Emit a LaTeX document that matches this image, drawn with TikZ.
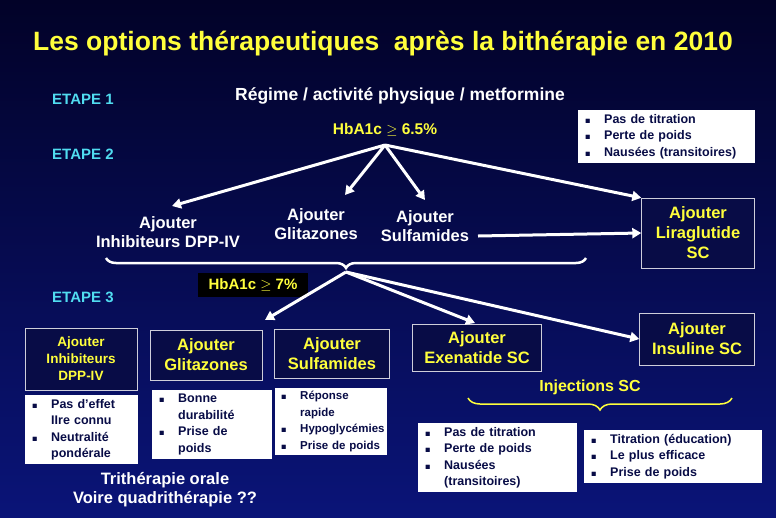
\documentclass[tikz,border=0pt]{standalone}
\usepackage{fontspec}
\usepackage{amssymb}
\setmainfont{Liberation Sans}
\setsansfont{Liberation Sans}
\usetikzlibrary{decorations.pathreplacing,arrows.meta}
\definecolor{bgtop}{RGB}{2,2,40}
\definecolor{bgbot}{RGB}{10,20,120}
\definecolor{navy}{RGB}{8,12,70}
\definecolor{slideyellow}{RGB}{255,255,60}
\definecolor{etapecyan}{RGB}{80,220,240}
\tikzset{
  every node/.style={font=\bfseries\sffamily, inner sep=0pt},
  etape/.style={text=etapecyan, font=\bfseries\sffamily\fontsize{15}{17}\selectfont, anchor=west},
  choice/.style={text=white, align=center, font=\bfseries\sffamily\fontsize{16.5}{19}\selectfont},
  drugbox/.style={draw=white!80!navy, fill=navy, text=slideyellow, align=center, font=\bfseries\sffamily\fontsize{16.5}{20}\selectfont},
  notebox/.style={fill=white, text=navy, anchor=north west, align=left, inner sep=4pt, font=\bfseries\sffamily\fontsize{12.5}{16.5}\selectfont},
  flow/.style={draw=white, line width=3pt, -{Triangle[length=9pt,width=10pt]}}
}
\newcommand{\itm}{\makebox[22pt][l]{\hspace{3pt}\tiny$\blacksquare$}}
\newcommand{\ind}{\hspace*{22pt}}
\begin{document}
\begin{tikzpicture}[x=1pt,y=-1pt]
\shade[top color=bgtop, bottom color=bgbot] (0,0) rectangle (776,517);
\useasboundingbox (0,0) rectangle (776,517);
\node[text=slideyellow, font=\bfseries\sffamily\fontsize{26.5}{30}\selectfont] (title) at (383,44) {Les options thérapeutiques \ après la bithérapie en 2010};
\node[etape] (e1) at (52,99) {ETAPE 1};
\node[etape] (e2) at (52,154) {ETAPE 2};
\node[etape] (e3) at (52,297) {ETAPE 3};
\node[choice, font=\bfseries\sffamily\fontsize{17.5}{20}\selectfont] (regime) at (400,96) {Régime / activité physique / metformine};
\node[text=slideyellow, font=\bfseries\sffamily\fontsize{15.5}{18}\selectfont] (hb1) at (385,130) {HbA1c $\geq$ 6.5\%};
\node[notebox, text width=169pt] (n0) at (578,110) {\itm Pas de titration\\\itm Perte de poids\\\itm Nausées (transitoires)};
% etape 2
\node[choice] (dpp) at (168,232) {Ajouter\\Inhibiteurs DPP-IV};
\node[choice] (glit) at (316,224) {Ajouter\\Glitazones};
\node[choice] (sulf) at (425,226) {Ajouter\\Sulfamides};
\node[drugbox, minimum width=113pt, minimum height=70pt] (lira) at (698,233) {Ajouter\\Liraglutide\\SC};
\coordinate (top) at (385,145);
\draw[flow] (top) -- (172,206);
\draw[flow] (top) -- (345,195);
\draw[flow] (top) -- (425,200);
\draw[flow] (top) -- (lira.north west);
\draw[flow] (478,236) -- (lira.west);
\draw[white, line width=2.5pt, decorate, decoration={brace, mirror, amplitude=10pt}] (106,258) -- (586,258);
\coordinate (brace) at (346,272);
\node[fill=black, text=slideyellow, minimum width=110pt, minimum height=24pt, font=\bfseries\sffamily\fontsize{15}{17}\selectfont] (hb2) at (253,285) {HbA1c $\geq$ 7\%};
% etape 3
\node[drugbox, minimum width=112pt, minimum height=62pt, font=\bfseries\sffamily\fontsize{13.5}{17}\selectfont] (bdpp) at (81,359) {Ajouter\\Inhibiteurs\\DPP-IV};
\node[drugbox, minimum width=112pt, minimum height=50pt] (bglit) at (206,355) {Ajouter\\Glitazones};
\node[drugbox, minimum width=115pt, minimum height=49pt] (bsulf) at (332,354) {Ajouter\\Sulfamides};
\node[drugbox, minimum width=129pt, minimum height=47pt] (bexe) at (477,348) {Ajouter\\Exenatide SC};
\node[drugbox, minimum width=115pt, minimum height=52pt] (bins) at (697,339) {Ajouter\\Insuline SC};
\draw[flow] (brace) -- (265,320);
\draw[flow] (brace) -- (475,323);
\draw[flow] (brace) -- (bins.west);
\node[notebox, text width=105pt] (n1) at (25,395) {\itm Pas d'effet\\\ind IIre connu\\\itm Neutralité\\\ind pondérale};
\node[notebox, text width=112pt] (n2) at (152,390) {\itm Bonne\\\ind durabilité\\\itm Prise de\\\ind poids};
\node[notebox, text width=106pt, inner sep=3pt, font=\bfseries\sffamily\fontsize{11.5}{16.5}\selectfont] (n3) at (275,388) {\itm Réponse\\\ind rapide\\\itm Hypoglycémies\\\itm Prise de poids};
\node[notebox, text width=151pt] (n4) at (418,423) {\itm Pas de titration\\\itm Perte de poids\\\itm Nausées\\\ind (transitoires)};
\node[notebox, text width=170pt] (n5) at (584,430) {\itm Titration (éducation)\\\itm Le plus efficace\\\itm Prise de poids};
\node[text=slideyellow, font=\bfseries\sffamily\fontsize{16}{19}\selectfont] (inj) at (590,387) {Injections SC};
\draw[slideyellow, line width=1.5pt, decorate, decoration={brace, mirror, amplitude=12pt}] (468,398) -- (732,398);
\node[choice] (tri) at (165,490) {Trithérapie orale\\Voire quadrithérapie ??};
\end{tikzpicture}
\end{document}
